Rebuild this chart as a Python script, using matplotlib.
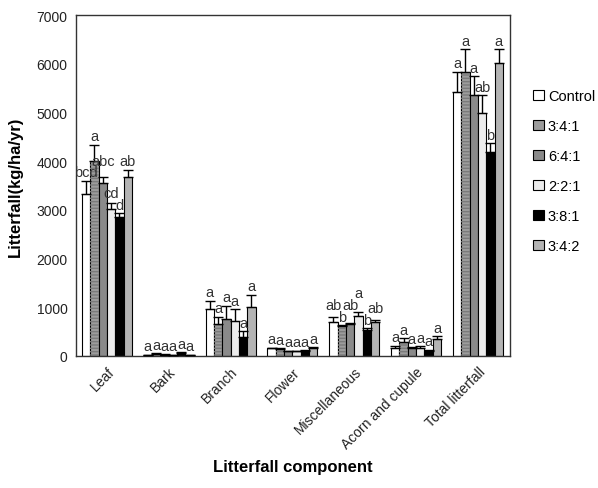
import matplotlib
matplotlib.use("Agg")
import matplotlib.pyplot as plt
import numpy as np

plt.rcParams['font.family'] = ['Liberation Sans', 'DejaVu Sans']

categories = ["Leaf", "Bark", "Branch", "Flower", "Miscellaneous", "Acorn and cupule", "Total litterfall"]
treatments = ["Control", "3:4:1", "6:4:1", "2:2:1", "3:8:1", "3:4:2"]

# means (kg/ha/yr), one list per treatment, columns = categories
control = [3330, 20, 965, 157, 690, 157, 5430]
t341 = [3995, 40, 657, 144, 609, 281, 5825]
t641 = [3552, 30, 760, 96, 657, 157, 5366]
t221 = [3018, 15, 725, 96, 814, 164, 4983]
t381 = [2848, 55, 396, 110, 534, 110, 4195]
t342 = [3682, 15, 1012, 164, 691, 349, 6016]

# upper error (SE)
err_control = [265, 10, 170, 15, 103, 55, 410]
err_341 = [345, 20, 150, 10, 27, 82, 480]
err_641 = [123, 10, 273, 10, 20, 21, 376]
err_221 = [123, 8, 240, 10, 96, 34, 376]
err_381 = [88, 20, 110, 12, 34, 15, 178]
err_342 = [144, 8, 247, 12, 48, 55, 288]

letters = [
    ["bcd", "a", "a", "a", "ab", "a", "a"],
    ["a", "a", "a", "a", "b", "a", "a"],
    ["abc", "a", "a", "a", "ab", "a", "a"],
    ["cd", "a", "a", "a", "a", "a", "ab"],
    ["d", "a", "a", "a", "b", "a", "b"],
    ["ab", "a", "a", "a", "ab", "a", "a"],
]

means = [control, t341, t641, t221, t381, t342]
errs = [err_control, err_341, err_641, err_221, err_381, err_342]
colors = ["#ffffff", "#9c9c9c", "#8a8a8a", "#ececec", "#000000", "#b4b4b4"]
hatches = [None, "-----", None, None, None, None]

fig = plt.figure(figsize=(5.98, 4.89), dpi=100)
ax = fig.add_axes([0.127, 0.270, 0.726, 0.697])

x = np.arange(len(categories))
w = 0.135
n = len(treatments)
plt.rcParams['hatch.color'] = '#7a7a7a'
positions = []
for i in range(n):
    pos = x + (i - (n - 1) / 2) * w
    positions.append(pos)
    ax.bar(pos, means[i], width=w, color=colors[i], edgecolor="black",
           linewidth=0.8, label=treatments[i], zorder=2)
    if hatches[i]:
        ax.bar(pos, means[i], width=w, color="none", edgecolor="#7a7a7a",
               linewidth=0, hatch=hatches[i], zorder=2.5)
    m = np.array(means[i]); e = np.array(errs[i])
    ax.errorbar(pos, m, yerr=[np.zeros_like(e), e], fmt="none", ecolor="black",
                elinewidth=1.0, capsize=3.5, capthick=1.0, zorder=4)

# significance letters, stacked upward where they would collide
char_w = 0.098
txt_h = 240
for j in range(len(categories)):
    items = []
    for i in range(n):
        items.append((means[i][j] + errs[i][j] + 30, positions[i][j], letters[i][j]))
    items.sort()
    placed = []
    for y, px, lab in items:
        half = len(lab) * char_w / 2 + 0.01
        moved = True
        while moved:
            moved = False
            for (x0, x1, y0, y1) in placed:
                if px - half < x1 and px + half > x0 and y < y1 and y + txt_h > y0:
                    y = y1 + 5
                    moved = True
        placed.append((px - half, px + half, y, y + txt_h))
        ax.text(px, y, lab, ha="center", va="bottom", fontsize=10.5,
                color="#333333", zorder=5)

ax.set_xlim(-0.5, 6.52)
ax.set_ylim(0, 7000)
ax.set_yticks(range(0, 7001, 1000))
ax.set_xticks(x)
ax.set_xticklabels(categories, rotation=45, ha="right", rotation_mode="anchor",
                   fontsize=10, color="#222222")
ax.tick_params(axis="both", length=0, labelsize=10, colors="#222222", pad=6)
for s in ax.spines.values():
    s.set_linewidth(1.0)
    s.set_color("#333333")

ax.set_ylabel("Litterfall(kg/ha/yr)", fontsize=12, fontweight="bold", labelpad=10)
fig.text(0.49, 0.035, "Litterfall component", ha="center", fontsize=12, fontweight="bold")

ax.legend(loc="upper left", bbox_to_anchor=(1.04, 0.80), frameon=False,
          fontsize=10.5, handlelength=0.7, handleheight=0.7, handletextpad=0.3,
          labelspacing=1.1, borderaxespad=0)

fig.savefig("out.png", dpi=100)
